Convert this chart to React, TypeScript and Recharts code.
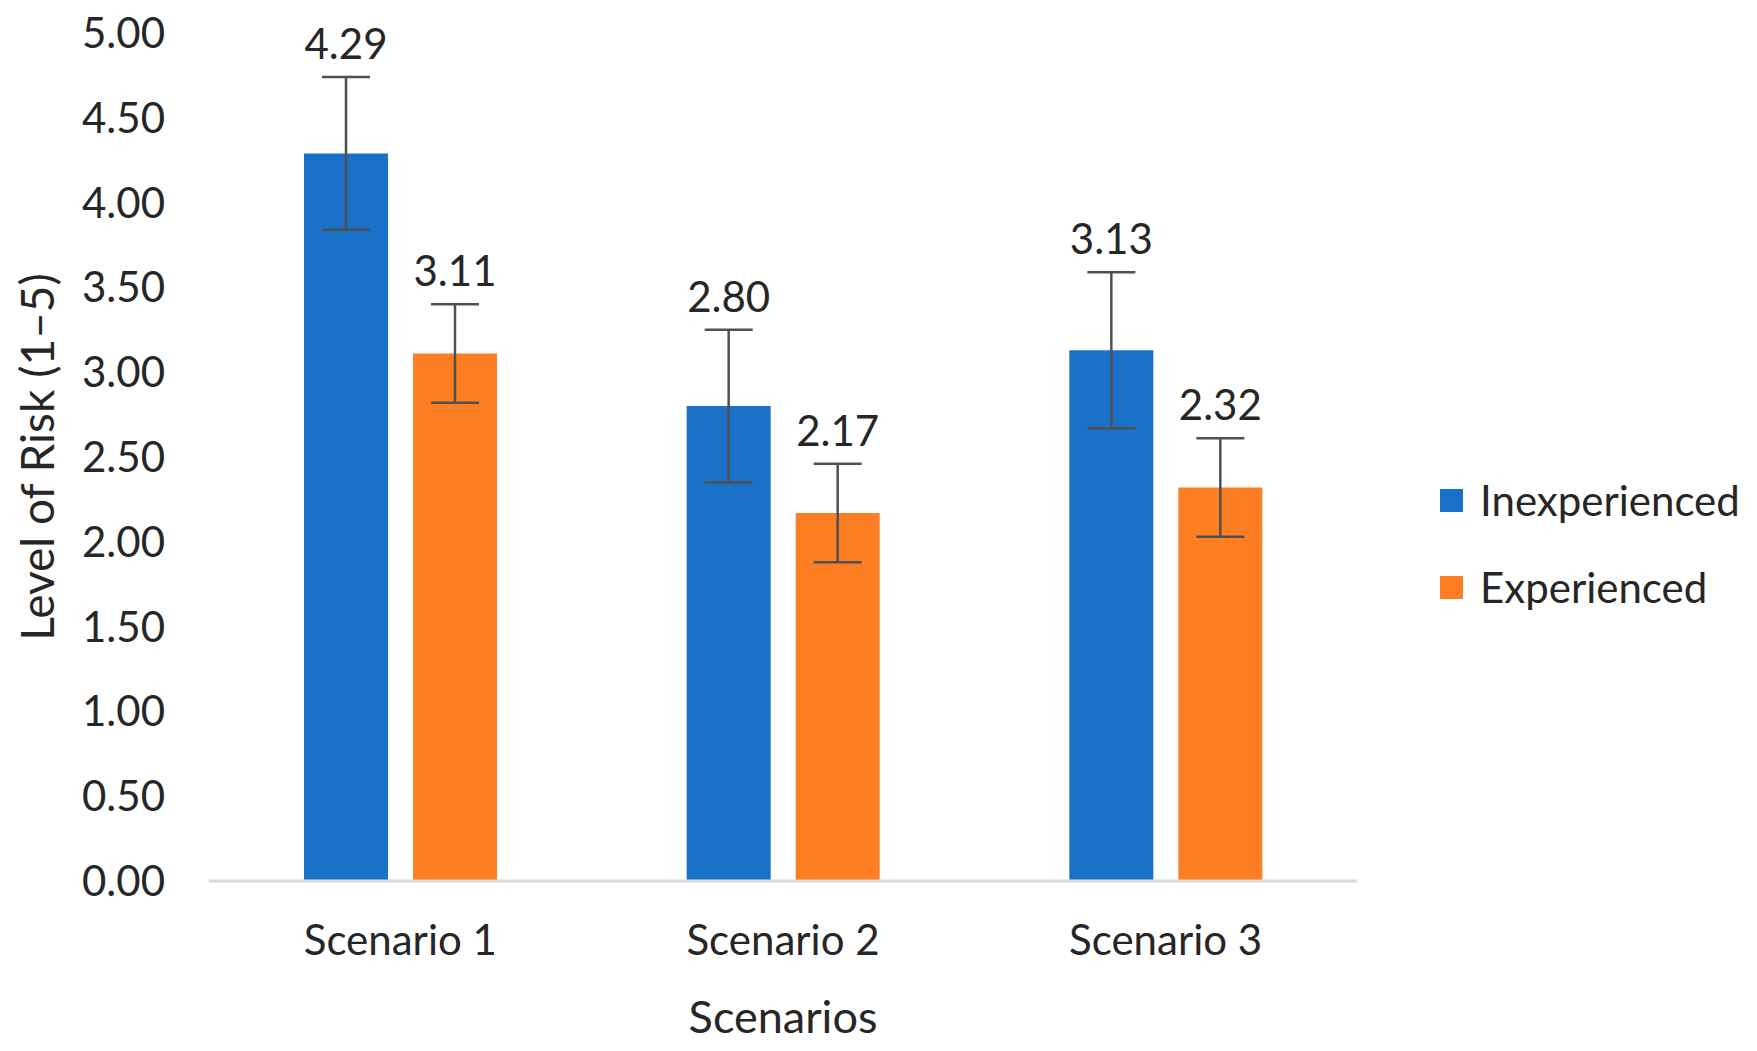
import { BarChart, Bar, XAxis, YAxis, ErrorBar, LabelList, Legend } from 'recharts';

const categories = ['Scenario 1', 'Scenario 2', 'Scenario 3'];
const inexperienced = [4.29, 2.8, 3.13];
const experienced = [3.11, 2.17, 2.32];
const inexperiencedErr = [0.45, 0.45, 0.46];
const experiencedErr = [0.29, 0.29, 0.29];
const yTicks = [0, 0.5, 1, 1.5, 2, 2.5, 3, 3.5, 4, 4.5, 5];

const BLUE = '#1A71C8';
const ORANGE = '#FE7E24';
const INK = '#262626';
const FONT = 'Lato, "Open Sans", sans-serif';

const data = categories.map((name, i) => ({
  name,
  inexperienced: inexperienced[i],
  experienced: experienced[i],
  inexperiencedErr: inexperiencedErr[i],
  experiencedErr: experiencedErr[i],
}));

// label sits just above the top whisker of the error bar
function makeValueLabel(errs: number[]) {
  return function ValueLabel(props: any) {
    const { x, y, width, height, value, index } = props;
    if (value == null) return null;
    const errTop = y - (errs[index] / value) * height;
    return (
      <text
        x={x + width / 2} y={errTop - 18}
        textAnchor="middle" fontSize={42} fontFamily={FONT} fill={INK}
      >
        {Number(value).toFixed(2)}
      </text>
    );
  };
}

function LegendBox() {
  const items = [
    { label: 'Inexperienced', color: BLUE },
    { label: 'Experienced', color: ORANGE },
  ];
  return (
    <div>
      {items.map((it) => (
        <div
          key={it.label}
          style={{ display: 'flex', alignItems: 'center', height: 40, marginBottom: 47 }}
        >
          <span style={{ width: 23, height: 23, background: it.color, marginRight: 17 }} />
          <span style={{ fontFamily: FONT, fontSize: 42, color: INK, lineHeight: '40px' }}>
            {it.label}
          </span>
        </div>
      ))}
    </div>
  );
}

export default function App() {
  return (
    <div style={{ position: 'absolute', left: 0, top: 0, background: '#fff' }}>
      <BarChart
        width={1757}
        height={1051}
        data={data}
        margin={{ top: 33, right: 83, left: 10, bottom: 50 }}
        barSize={84}
        barGap={25}
      >
        <XAxis
          dataKey="name"
          height={120}
          tickLine={false}
          tickSize={0}
          tickMargin={44}
          axisLine={{ stroke: '#D9D9D9', strokeWidth: 3 }}
          tick={{ fill: INK, fontSize: 42, fontFamily: FONT }}
          label={{
            content: (p: any) => (
              <text
                x={p.viewBox.x + p.viewBox.width / 2} y={1033}
                textAnchor="middle" fontSize={45} fontFamily={FONT} fill={INK}
              >
                Scenarios
              </text>
            ),
          }}
        />
        <YAxis
          domain={[0, 5]}
          ticks={yTicks}
          interval={0}
          width={199}
          tickLine={false}
          tickSize={0}
          tickMargin={44}
          axisLine={false}
          tickFormatter={(v: number) => v.toFixed(2)}
          tick={{ fill: INK, fontSize: 42, fontFamily: FONT }}
          label={{
            content: (p: any) => {
              const cy = p.viewBox.y + p.viewBox.height / 2;
              return (
                <text
                  x={36} y={cy} transform={`rotate(-90, 36, ${cy})`}
                  textAnchor="middle" dominantBaseline="central"
                  fontSize={46} fontFamily={FONT} fill={INK}
                >
                  Level of Risk (1–5)
                </text>
              );
            },
          }}
        />
        <Legend
          layout="vertical"
          align="right"
          verticalAlign="middle"
          content={<LegendBox />}
          wrapperStyle={{ left: 1440, top: 480, right: 'auto', width: 317 }}
        />
        <Bar dataKey="inexperienced" name="Inexperienced" fill={BLUE} isAnimationActive={false}>
          <ErrorBar
            dataKey="inexperiencedErr" width={24} strokeWidth={2.5}
            stroke="#505050" direction="y" isAnimationActive={false}
          />
          <LabelList dataKey="inexperienced" content={makeValueLabel(inexperiencedErr)} />
        </Bar>
        <Bar dataKey="experienced" name="Experienced" fill={ORANGE} isAnimationActive={false}>
          <ErrorBar
            dataKey="experiencedErr" width={24} strokeWidth={2.5}
            stroke="#505050" direction="y" isAnimationActive={false}
          />
          <LabelList dataKey="experienced" content={makeValueLabel(experiencedErr)} />
        </Bar>
      </BarChart>
    </div>
  );
}
